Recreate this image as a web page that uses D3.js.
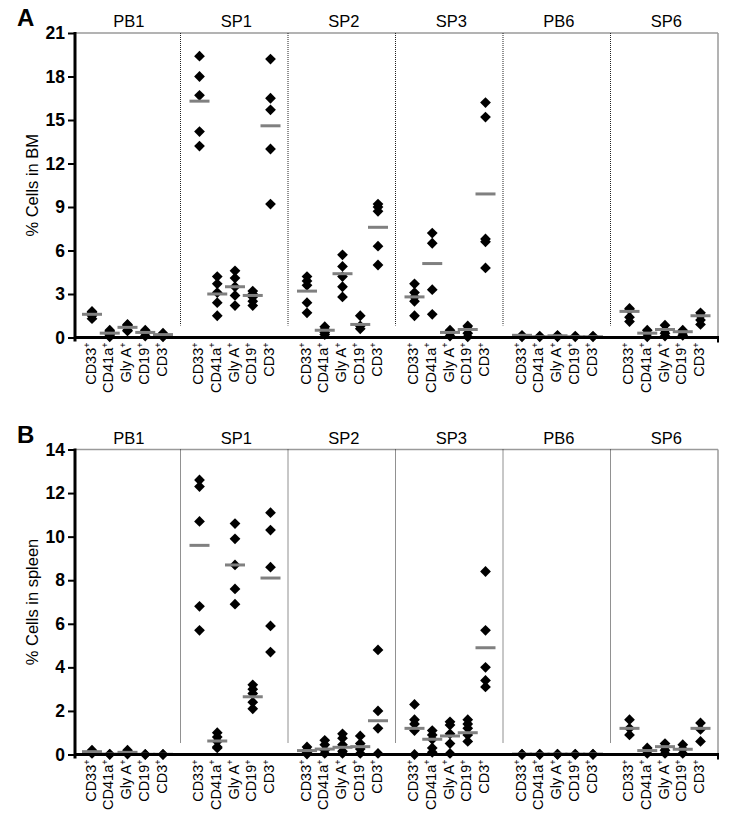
<!DOCTYPE html>
<html>
<head>
<meta charset="utf-8">
<script src="https://cdn.jsdelivr.net/npm/d3@7"></script>
<style>
  body { margin: 0; background: #fff; }
  svg text { font-family: Arial, "Liberation Sans", sans-serif; }
</style>
</head>
<body>
<svg id="base" width="742" height="823"></svg>
<script>
// groups and markers
var groups  = ['PB1', 'SP1', 'SP2', 'SP3', 'PB6', 'SP6'];
var markers = ['CD33', 'CD41a', 'Gly A', 'CD19', 'CD3'];

// ---------- A: % cells in BM (one row per marker) ----------
var bm_PB1 = [[1.8, 1.7, 1.5, 1.3], [0.5, 0.4, 0.2, 0.1, 0.05], [0.9, 0.85, 0.8, 0.5, 0.45], [0.5, 0.4, 0.3, 0.1], [0.3, 0.2, 0.1, 0.05]];
var bm_SP1 = [[19.4, 18.0, 16.7, 14.2, 13.2], [4.2, 3.7, 3.1, 2.4, 1.5], [4.6, 4.1, 3.5, 2.9, 2.2], [3.2, 3.0, 2.8, 2.5, 2.2], [19.2, 16.5, 15.7, 13.0, 9.2]];
var bm_SP2 = [[4.2, 3.9, 3.6, 2.4, 1.7], [0.75, 0.55, 0.35, 0.2], [5.7, 4.9, 4.2, 3.5, 2.8], [1.5, 0.8, 0.6], [9.2, 9.0, 8.7, 6.3, 5.0]];
var bm_SP3 = [[3.7, 3.1, 2.8, 2.5, 1.5], [7.2, 6.5, 3.3, 1.6], [0.5, 0.3, 0.1], [0.8, 0.6, 0.3, 0.05], [16.2, 15.2, 6.8, 6.6, 4.8]];
var bm_PB6 = [[0.15, 0.1, 0.05], [0.1, 0.05], [0.15, 0.1, 0.05], [0.1, 0.05], [0.1, 0.05]];
var bm_SP6 = [[2.0, 1.9, 1.4, 1.1], [0.5, 0.3, 0.05], [0.85, 0.5, 0.3, 0.1], [0.5, 0.35, 0.15], [1.7, 1.5, 1.2, 0.9]];
var bm_means = [[1.6, 0.3, 0.7, 0.35, 0.2], [16.3, 3.0, 3.5, 2.9, 14.6], [3.2, 0.5, 4.4, 0.9, 7.6],
                [2.8, 5.1, 0.35, 0.55, 9.9], [0.15, 0.05, 0.12, 0.05, 0.05], [1.8, 0.3, 0.55, 0.4, 1.5]];

// ---------- B: % cells in spleen ----------
var sp_PB1 = [[0.2, 0.15, 0.05], [0.02, 0], [0.2, 0.1, 0.02], [0.01, 0], [0.01, 0]];
var sp_SP1 = [[12.6, 12.3, 10.7, 6.8, 5.7], [1.0, 0.8, 0.6, 0.35, 0.3], [10.6, 9.9, 8.7, 7.6, 6.9], [3.2, 3.0, 2.8, 2.4, 2.1], [11.1, 10.3, 8.6, 5.9, 4.7]];
var sp_SP2 = [[0.35, 0.2, 0.1, 0.02], [0.65, 0.45, 0.2, 0.05], [0.95, 0.75, 0.45, 0.15, 0.05], [0.85, 0.5, 0.25, 0.05], [4.8, 2.0, 1.2, 0.05]];
var sp_SP3 = [[2.3, 1.6, 1.4, 1.1, 0.0], [1.1, 0.9, 0.7, 0.3, 0.1], [1.5, 1.35, 0.95, 0.5, 0.05], [1.6, 1.4, 1.2, 0.9, 0.6], [8.4, 5.7, 4.0, 3.4, 3.1]];
var sp_PB6 = [[0.02, 0], [0.02, 0], [0.02, 0], [0.02, 0], [0.02, 0]];
var sp_SP6 = [[1.6, 1.2, 0.9], [0.3, 0.2, 0.05], [0.5, 0.35, 0.2, 0.05], [0.45, 0.25, 0.05], [1.45, 1.15, 0.6]];
var sp_means = [[0.13, 0.02, 0.1, 0.01, 0.01], [9.6, 0.62, 8.7, 2.65, 8.1], [0.18, 0.25, 0.33, 0.36, 1.55],
                [1.2, 0.7, 0.85, 1.0, 4.9], [0.02, 0.02, 0.02, 0.02, 0.02], [1.2, 0.18, 0.36, 0.24, 1.2]];

var bm_tick_vals = [0, 3, 6, 9, 12, 15, 18, 21];
var sp_tick_vals = [0, 2, 4, 6, 8, 10, 12, 14];

var svg = d3.select('#base');

// same x layout for both panels
var axis_x = 75, right_x = 718;
var xGroup = d3.scaleBand().domain(groups).range([73, right_x]).padding(0);
var xMarker = d3.scalePoint().domain(markers).range([19, 90]);

function drawPanel(opt) {
    var g = svg.append('g');
    var y = d3.scaleLinear().domain([0, opt.max]).range([opt.bottom, opt.top]);

    // panel letter
    g.append('text').attr('x', 17).attr('y', opt.top - 7)
     .attr('font-size', 24).attr('font-weight', 'bold').text(opt.letter);

    // group titles
    g.selectAll('.gtitle').data(groups).enter().append('text')
     .attr('x', d => xGroup(d) + xGroup.bandwidth() / 2 + 2)
     .attr('y', opt.top - 6)
     .attr('text-anchor', 'middle').attr('font-size', 16.5).text(d => d);

    // top and right frame
    g.append('line').attr('x1', axis_x).attr('x2', right_x).attr('y1', opt.top).attr('y2', opt.top)
     .attr('stroke', '#9a9a9a').attr('stroke-width', 1.5);
    g.append('line').attr('x1', right_x).attr('x2', right_x).attr('y1', opt.top).attr('y2', opt.bottom)
     .attr('stroke', '#9a9a9a').attr('stroke-width', 1.5);

    // dotted separators
    g.selectAll('.sep').data(groups.slice(1)).enter().append('line')
     .attr('x1', d => xGroup(d)).attr('x2', d => xGroup(d))
     .attr('y1', opt.top).attr('y2', opt.bottom - 12)
     .attr('stroke', '#222').attr('stroke-width', 1).attr('stroke-dasharray', '1,1');

    var diamond = d3.symbol().type(d3.symbolSquare).size(58);

    groups.forEach(function (grp, gi) {
        var gx = xGroup(grp);
        opt.values[gi].forEach(function (vals, mi) {
            var cx = gx + xMarker(markers[mi]);
            g.selectAll(null).data(vals).enter().append('path')
             .attr('d', diamond)
             .attr('transform', d => `translate(${cx},${y(d)}) rotate(45)`)
             .attr('fill', '#000');
        });
        // mean bars
        g.selectAll(null).data(opt.means[gi]).enter().append('line')
         .attr('x1', (d, mi) => gx + xMarker(markers[mi]) - 10)
         .attr('x2', (d, mi) => gx + xMarker(markers[mi]) + 10)
         .attr('y1', d => y(d)).attr('y2', d => y(d))
         .attr('stroke', '#808080').attr('stroke-width', 3);
    });

    // x axis line + right end tick
    g.append('line').attr('x1', axis_x).attr('x2', right_x + 1).attr('y1', opt.bottom).attr('y2', opt.bottom)
     .attr('stroke', '#000').attr('stroke-width', 3);
    g.append('line').attr('x1', right_x).attr('x2', right_x).attr('y1', opt.bottom).attr('y2', opt.bottom + 5)
     .attr('stroke', '#000').attr('stroke-width', 2);

    // x labels, rotated
    groups.forEach(function (grp) {
        var gx = xGroup(grp);
        var lab = g.selectAll(null).data(markers).enter().append('text')
            .attr('transform', d => `translate(${gx + xMarker(d) - 1.5},${opt.bottom + 5}) rotate(-90)`)
            .attr('text-anchor', 'end').attr('dy', '0.35em').attr('font-size', 14.5);
        lab.append('tspan').text(d => d);
        lab.append('tspan').attr('dy', -5.5).attr('font-size', 9).text('+');
    });

    // y axis
    var yAxis = d3.axisLeft(y).tickValues(opt.ticks).tickSize(7).tickSizeOuter(0).tickPadding(3);
    var ax = g.append('g').attr('transform', `translate(${axis_x},0)`).call(yAxis);
    ax.select('.domain').remove();
    ax.selectAll('.tick line').attr('stroke-width', 2);
    ax.selectAll('.tick text').attr('font-size', 17.5).attr('font-weight', 'bold')
      .attr('font-family', 'Arial, "Liberation Sans", sans-serif').attr('fill', '#000');
    g.append('line').attr('x1', axis_x).attr('x2', axis_x).attr('y1', opt.top - 1).attr('y2', opt.bottom + 4)
     .attr('stroke', '#000').attr('stroke-width', 3);

    // y label
    g.append('text').attr('transform', `translate(38,${(opt.top + opt.bottom) / 2}) rotate(-90)`)
     .attr('text-anchor', 'middle').attr('font-size', 16.5).text(opt.label);
}

drawPanel({ letter: 'A', label: '% Cells in BM', top: 33, bottom: 337.5, max: 21, ticks: bm_tick_vals,
            values: [bm_PB1, bm_SP1, bm_SP2, bm_SP3, bm_PB6, bm_SP6], means: bm_means });

drawPanel({ letter: 'B', label: '% Cells in spleen', top: 449.5, bottom: 754.5, max: 14, ticks: sp_tick_vals,
            values: [sp_PB1, sp_SP1, sp_SP2, sp_SP3, sp_PB6, sp_SP6], means: sp_means });
</script>
</body>
</html>
